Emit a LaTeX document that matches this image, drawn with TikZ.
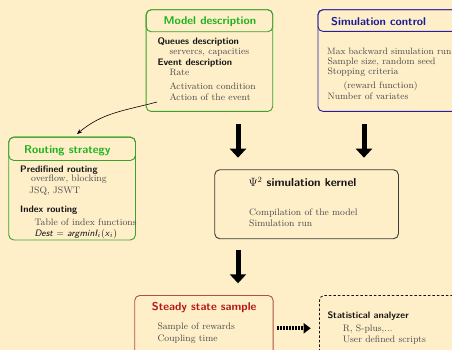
\documentclass[tikz,border=0pt]{standalone}
\usepackage{tikz}
\usetikzlibrary{arrows.meta}
\definecolor{bgcream}{RGB}{254,239,201}
\definecolor{mdgreen}{RGB}{30,178,30}
\definecolor{mdgreenline}{RGB}{60,160,45}
\definecolor{scblue}{RGB}{28,28,150}
\definecolor{scblueline}{RGB}{40,30,160}
\definecolor{ssred}{RGB}{180,20,20}
\definecolor{ssredline}{RGB}{180,80,60}
\definecolor{kernline}{RGB}{60,60,55}
\definecolor{bodygray}{RGB}{75,75,75}
\definecolor{headblack}{RGB}{20,20,20}
\tikzset{
  blockbox/.style={draw, rounded corners=5pt, line width=0.9pt, inner sep=0pt, anchor=north west},
  titletext/.style={anchor=base west, inner sep=0pt, font=\fontsize{11.3}{13}\sffamily\bfseries},
  headtext/.style={anchor=base west, inner sep=0pt, text=headblack, font=\fontsize{9.4}{11}\sffamily\bfseries},
  bodytext/.style={anchor=base west, inner sep=0pt, text=bodygray, font=\fontsize{9.4}{11}\rmfamily},
  bigarrow/.style={line width=5pt, -{Triangle[width=16pt,length=9pt]}},
  dotarrow/.style={line width=3.8pt, dash pattern=on 0.8pt off 0.7pt, -{Triangle[width=10pt,length=7pt]}},
  thinarrow/.style={line width=0.6pt, -{Stealth[length=5pt,width=4pt]}},
}
\begin{document}
\begin{tikzpicture}[x=1pt,y=1pt,yscale=-1,xscale=1]
\useasboundingbox (0,0) rectangle (452,350);
\clip (0,0) rectangle (452,350);
\fill [bgcream] (0,0) rectangle (452,350);

%Shape: Model description block
\node (model) [blockbox, draw=mdgreenline, minimum width=126.6pt, minimum height=101.7pt] at (145.7,9.3) {};
\node (modelband) [blockbox, draw=mdgreenline, minimum width=126.6pt, minimum height=22pt] at (145.7,9.3) {};
%Shape: Simulation control block
\node (simctl) [blockbox, draw=scblueline, minimum width=170pt, minimum height=101.7pt] at (317.5,9.3) {};
\node (simband) [blockbox, draw=scblueline, minimum width=170pt, minimum height=21.7pt] at (317.5,9.3) {};
%Shape: Routing strategy block
\node (routing) [blockbox, draw=mdgreenline, minimum width=126.7pt, minimum height=102.8pt] at (8.3,136.7) {};
\node (routeband) [blockbox, draw=mdgreenline, minimum width=126.7pt, minimum height=23.3pt] at (8.3,136.7) {};
%Shape: Simulation kernel block
\node (kernel) [blockbox, draw=kernline, minimum width=183.7pt, minimum height=69pt] at (214.3,169.3) {};
%Shape: Steady state block
\node (steady) [blockbox, draw=ssredline, minimum width=138.4pt, minimum height=80pt] at (134.3,295) {};
%Shape: Statistical analyzer block
\node (stat) [blockbox, draw=headblack, dash pattern=on 2.5pt off 2pt, minimum width=170pt, minimum height=80pt] at (319,295) {};

% Text Node
\draw (163.3,25) node (mdtitle) [titletext, text=mdgreen] {Model description};
\draw (157.3,45) node (mdq) [headtext] {Queues description};
\draw (169.3,54.5) node (mdqa) [bodytext] {servercs, capacities};
\draw (157.3,65.5) node (mde) [headtext] {Event description};
\draw (169.3,76) node (mdea) [bodytext] {Rate};
\draw (169.3,90) node (mdeb) [bodytext] {Activation condition};
\draw (169.3,101) node (mdec) [bodytext] {Action of the event};
% Text Node
\draw (331,25.5) node (sctitle) [titletext, text=scblue] {Simulation control};
\draw (327,55) node (sca) [bodytext, font=\fontsize{9.2}{11}\rmfamily] {Max backward simulation run};
\draw (327.3,64.7) node (scb) [bodytext] {Sample size, random seed};
\draw (327.3,74.3) node (scc) [bodytext] {Stopping criteria};
\draw (343.3,88.3) node (scd) [bodytext] {(reward function)};
\draw (327.3,100) node (sce) [bodytext] {Number of variates};
% Text Node
\draw (24,153.3) node (rstitle) [titletext, text=mdgreen] {Routing strategy};
\draw (20,172.7) node (rsp) [headtext] {Predifined routing};
\draw (31,181) node (rspa) [bodytext] {overflow, blocking};
\draw (29,193.3) node (rspb) [bodytext] {JSQ, JSWT};
\draw (20,212.7) node (rsi) [headtext] {Index routing};
\draw (34.3,225.7) node (rsia) [bodytext] {Table of index functions};
\draw (34.3,236) node (rsib) [bodytext, text=headblack] {\textit{\sffamily Dest} $=$ \textit{\sffamily argminI}$_i$(\textit{\sffamily x}$_i$)};
% Text Node
\draw (248.3,186.7) node (sktitle) [titletext, text=headblack, font=\fontsize{11.6}{13}\sffamily\bfseries] {$\Psi^2$ simulation kernel};
\draw (249,215) node (ska) [bodytext] {Compilation of the model};
\draw (249,226) node (skb) [bodytext] {Simulation run};
% Text Node
\draw (151.7,310.5) node (sstitle) [titletext, text=ssred] {Steady state sample};
\draw (157.3,329.5) node (ssa) [bodytext] {Sample of rewards};
\draw (157.3,341) node (ssb) [bodytext] {Coupling time};
% Text Node
\draw (327.3,318) node (satitle) [headtext] {Statistical analyzer};
\draw (342.7,331) node (saa) [bodytext] {R, S-plus,...};
\draw (342.7,342) node (sab) [bodytext] {User defined scripts};

%Arrows
\coordinate (arrA) at (238,0);
\coordinate (arrB) at (364,0);
\coordinate (dotrow) at (0,328.3);
\coordinate (curvestart) at (157,102);
\coordinate (curveend) at (77,134);
\draw [bigarrow, shorten <=12.3pt, shorten >=11.6pt] (model.south -| arrA) -- (kernel.north -| arrA);
\draw [bigarrow, shorten <=12.3pt, shorten >=11.6pt] (simctl.south -| arrB) -- (kernel.north -| arrB);
\draw [bigarrow, shorten <=10.7pt, shorten >=11.7pt] (kernel.south -| arrA) -- (steady.north -| arrA);
\draw [dotarrow, shorten <=3.3pt, shorten >=8.3pt] (steady.east |- dotrow) -- (stat.west |- dotrow);
\draw [thinarrow] (curvestart) to [out=165, in=-40] (curveend);

\end{tikzpicture}
\end{document}
